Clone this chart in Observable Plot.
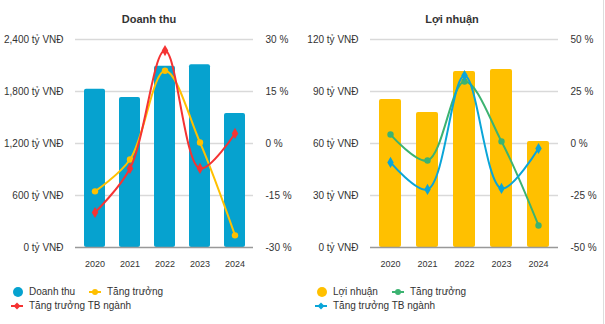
<!DOCTYPE html>
<html><head><meta charset="utf-8">
<script src="https://cdn.jsdelivr.net/npm/d3@7"></script>
<script src="https://cdn.jsdelivr.net/npm/@observablehq/plot@0.6"></script>
<style>
body{margin:0;background:#fff;font-family:"Liberation Sans",Arial,sans-serif;}
#root{position:relative;width:605px;height:324px;overflow:hidden;background:#fff;}
.title{position:absolute;top:13px;font-weight:bold;font-size:11px;color:#333;transform:translateX(-50%);white-space:nowrap;line-height:13px}
.chart{position:absolute;top:30px}
.item{position:absolute;white-space:nowrap;display:flex;align-items:center;font-size:10px;color:#333;line-height:12px;transform:translateY(-50%)}
.item svg{margin-right:6px}
#edge{position:absolute;left:603px;top:0;width:1px;height:324px;background:#ddd}
</style></head><body><div id="root"><div id="edge"></div></div>
<script>
const years = ["2020", "2021", "2022", "2023", "2024"];

// Doanh thu (tỷ VNĐ) and growth (%)
const revenue = [1825, 1730, 2090, 2110, 1545];
const revenueGrowth = [-13.8, -4.6, 21.0, 0.3, -26.5];
const revenueIndustry = [-19.9, -7.2, 26.8, -7.2, 2.9];
const revenueTicks = [0, 600, 1200, 1800, 2400];
const revenuePctLabels = ["-30 %", "-15 %", "0 %", "15 %", "30 %"];

// Lợi nhuận (tỷ VNĐ) and growth (%)
const profit = [85.4, 77.9, 101.5, 102.7, 61.2];
const profitGrowth = [4.3, -8.2, 29.8, 1.0, -39.4];
const profitIndustry = [-9.1, -22.1, 32.7, -21.6, -2.4];
const profitTicks = [0, 30, 60, 90, 120];
const profitPctLabels = ["-50 %", "-25 %", "0 %", "25 %", "50 %"];

const FONT = '"Liberation Sans", Arial, sans-serif';

function makeChart(cfg) {
  const yMax = cfg.ticks[cfg.ticks.length - 1];
  const half = yMax / 2;
  const pctMax = cfg.pctMax;
  const toY = p => half + p / pctMax * half;
  const rows = years.map((yr, i) => ({year: yr, bar: cfg.bars[i], g: toY(cfg.growth[i]), ind: toY(cfg.industry[i])}));
  return Plot.plot({
    width: cfg.width, height: 245,
    marginTop: 9, marginBottom: 28, marginLeft: cfg.ml, marginRight: cfg.mr,
    style: {fontFamily: FONT, fontSize: "10px", color: "#333", background: "transparent", overflow: "visible"},
    x: {domain: years, paddingInner: 0.4, paddingOuter: 0.2, label: null},
    y: {domain: [0, yMax], label: null},
    marks: [
      Plot.ruleY(cfg.ticks.slice(1), {stroke: "#d9d9d9", strokeWidth: 1.5}),
      Plot.barY(rows, {x: "year", y: "bar", fill: cfg.barColor, rx: 2}),
      Plot.ruleY([0], {stroke: "#999", strokeWidth: 1.5}),
      Plot.axisX({tickSize: 0, tickPadding: 13, fontSize: 9, label: null}),
      Plot.axisY(cfg.ticks, {anchor: "left", tickSize: 0, tickPadding: 12, label: null,
        tickFormat: d => d3.format(",")(d) + " tỷ VNĐ"}),
      Plot.axisY(cfg.ticks, {anchor: "right", tickSize: 0, tickPadding: 12, label: null,
        tickFormat: d => cfg.pctLabels[cfg.ticks.indexOf(d)]}),
      Plot.line(rows, {x: "year", y: "g", curve: "catmull-rom", stroke: cfg.gColor, strokeWidth: 2}),
      Plot.dot(rows, {x: "year", y: "g", r: 3.2, fill: cfg.gColor, symbol: "circle"}),
      Plot.line(rows, {x: "year", y: "ind", curve: "catmull-rom", stroke: cfg.indColor, strokeWidth: 2}),
      Plot.dot(rows, {x: "year", y: "ind", r: 3.4, fill: cfg.indColor, symbol: "diamond"})
    ]
  });
}

const root = document.getElementById("root");

function addTitle(text, cx) {
  const t = document.createElement("div");
  t.className = "title"; t.style.left = cx + "px"; t.textContent = text;
  root.appendChild(t);
}
function addChart(svg, left) {
  const w = document.createElement("div");
  w.className = "chart"; w.style.left = left + "px";
  w.appendChild(svg); root.appendChild(w);
}
function addItem(kind, color, text, x, y) {
  const d = document.createElement("div");
  d.className = "item"; d.style.left = x + "px"; d.style.top = y + "px";
  let icon;
  if (kind === "bar") icon = `<svg width="10" height="10"><circle cx="5" cy="5" r="5" fill="${color}"/></svg>`;
  else if (kind === "circle") icon = `<svg width="12" height="8"><line x1="0" y1="4" x2="12" y2="4" stroke="${color}" stroke-width="2"/><circle cx="6" cy="4" r="3" fill="${color}"/></svg>`;
  else icon = `<svg width="12" height="8"><line x1="0" y1="4" x2="12" y2="4" stroke="${color}" stroke-width="2"/><path d="M6 0.5L9.5 4L6 7.5L2.5 4Z" fill="${color}"/></svg>`;
  d.innerHTML = icon + `<span>${text}</span>`;
  root.appendChild(d);
}

const BLUE = "#06a2cf", YELLOW = "#ffc000", RED = "#f53333", GREEN = "#3cb371", LBLUE = "#0aa5d8";

addTitle("Doanh thu", 149);
addTitle("Lợi nhuận", 452);

addChart(makeChart({width: 300, ml: 75, mr: 47, bars: revenue, growth: revenueGrowth, industry: revenueIndustry,
  ticks: revenueTicks, pctLabels: revenuePctLabels, pctMax: 30, barColor: BLUE, gColor: YELLOW, indColor: RED}), 0);
addChart(makeChart({width: 305, ml: 70, mr: 47, bars: profit, growth: profitGrowth, industry: profitIndustry,
  ticks: profitTicks, pctLabels: profitPctLabels, pctMax: 50, barColor: YELLOW, gColor: GREEN, indColor: LBLUE}), 300);

addItem("bar", BLUE, "Doanh thu", 13, 292);
addItem("circle", YELLOW, "Tăng trưởng", 89, 292);
addItem("diamond", RED, "Tăng trưởng TB ngành", 11, 306);
addItem("bar", YELLOW, "Lợi nhuận", 317, 292);
addItem("circle", GREEN, "Tăng trưởng", 392, 292);
addItem("diamond", LBLUE, "Tăng trưởng TB ngành", 315, 306);
</script>
</body></html>
